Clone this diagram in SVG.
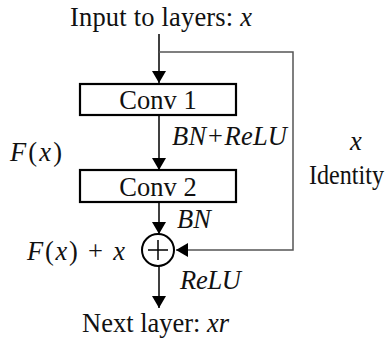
<svg xmlns="http://www.w3.org/2000/svg" width="390" height="345" viewBox="0 0 390 345">
<defs>
<style>
.t{font-family:'Liberation Serif','Times New Roman',serif;font-size:26.5px;fill:#111}
.i{font-style:italic}
.box{fill:#fff;stroke:#000;stroke-width:2.2}
.ln{stroke:#000;stroke-width:1.5;fill:none}
.id{stroke:#555;stroke-width:1.5;fill:none}
</style>
<marker id="ah" viewBox="0 0 12 14" refX="12" refY="7" markerWidth="12" markerHeight="14" markerUnits="userSpaceOnUse" orient="auto">
<path d="M0,0 L12,7 L0,14 Z" fill="#000"/>
</marker>
</defs>
<g id="connectors">
<line class="ln" x1="159" y1="34" x2="159" y2="83" marker-end="url(#ah)"/>
<path class="id" d="M159,52 H293 V250 H176" marker-end="url(#ah)"/>
<line class="ln" x1="159" y1="115" x2="159" y2="170" marker-end="url(#ah)"/>
<line class="ln" x1="159" y1="202" x2="159" y2="234" marker-end="url(#ah)"/>
<line class="ln" x1="159" y1="266" x2="159" y2="308" marker-end="url(#ah)"/>
</g>
<g id="input"><text class="t" x="70" y="26" textLength="182" lengthAdjust="spacing">Input to layers: <tspan class="i">x</tspan></text></g>
<g id="conv1"><rect class="box" x="80" y="84" width="156" height="31"/><text class="t" x="158" y="109" text-anchor="middle">Conv 1</text></g>
<g id="conv2"><rect class="box" x="80" y="170" width="156" height="32"/><text class="t" x="158" y="196" text-anchor="middle">Conv 2</text></g>
<g id="sum"><circle cx="158" cy="250" r="16" fill="#fff" stroke="#000" stroke-width="2"/><path d="M148,250 H168 M158,240 V260" stroke="#000" stroke-width="1.5"/></g>
<g id="output"><text class="t" x="82" y="332">Next layer: <tspan class="i">xr</tspan></text></g>
<g id="labels">
<text class="t" x="10" y="161" textLength="52" lengthAdjust="spacing"><tspan class="i">F</tspan>(<tspan class="i">x</tspan>)</text>
<text class="t i" x="172" y="145" textLength="115" lengthAdjust="spacing">BN+ReLU</text>
<text class="t i" x="350" y="150">x</text>
<text class="t" x="309" y="184" textLength="75" lengthAdjust="spacingAndGlyphs">Identity</text>
<text class="t i" x="177" y="228">BN</text>
<text class="t" x="27" y="260" textLength="98" lengthAdjust="spacing"><tspan class="i">F</tspan>(<tspan class="i">x</tspan>) + <tspan class="i">x</tspan></text>
<text class="t i" x="180" y="289" textLength="61" lengthAdjust="spacing">ReLU</text>
</g>
</svg>
